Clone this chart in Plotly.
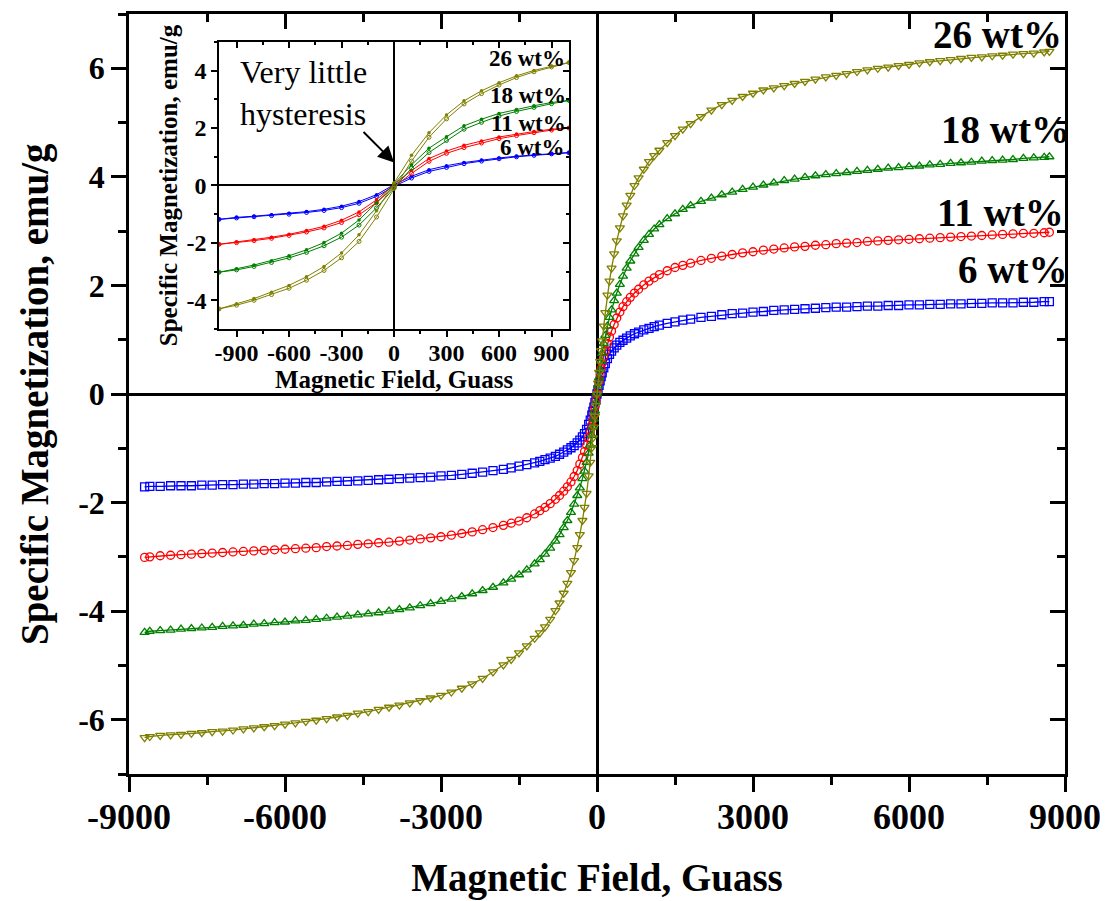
import plotly.graph_objects as go

# ---------------- main plot data (Magnetic field in Gauss, magnetization emu/g) ----------------
F_NEG = [-8700, -8600, -8400, -8200, -8000, -7800, -7600, -7400, -7200, -7000, -6800, -6600, -6400,
         -6200, -6000, -5800, -5600, -5400, -5200, -5000, -4800, -4600, -4400, -4200, -4000, -3800,
         -3600, -3400, -3200, -3000, -2800, -2600, -2400, -2200, -2000, -1800, -1650, -1500, -1350,
         -1200, -1100, -1000, -900, -800, -720, -640, -570, -500, -440, -380, -330, -280, -240, -200,
         -160, -130, -100, -80, -60, -40, -20]
F_POS = [0, 20, 40, 60, 80, 100, 130, 160, 200, 240, 280, 330, 380, 440, 500, 570, 640, 720, 800, 900,
         1000, 1100, 1200, 1350, 1500, 1650, 1800, 2000, 2200, 2400, 2600, 2800, 3000, 3200, 3400, 3600,
         3800, 4000, 4200, 4400, 4600, 4800, 5000, 5200, 5400, 5600, 5800, 6000, 6200, 6400, 6600, 6800,
         7000, 7200, 7400, 7600, 7800, 8000, 8200, 8400, 8600, 8700]

M6_NEG = [-1.71, -1.7, -1.7, -1.69, -1.69, -1.69, -1.68, -1.68, -1.67, -1.67, -1.66, -1.66, -1.65, -1.65,
          -1.64, -1.64, -1.63, -1.63, -1.62, -1.61, -1.61, -1.6, -1.59, -1.58, -1.57, -1.56, -1.55, -1.54,
          -1.53, -1.51, -1.5, -1.48, -1.46, -1.44, -1.41, -1.39, -1.36, -1.33, -1.3, -1.27, -1.24, -1.21,
          -1.18, -1.15, -1.11, -1.07, -1.03, -0.99, -0.95, -0.9, -0.85, -0.79, -0.73, -0.65, -0.56, -0.48,
          -0.39, -0.32, -0.24, -0.16, -0.08]
M6_POS = [0, 0.08, 0.16, 0.24, 0.32, 0.39, 0.48, 0.56, 0.65, 0.73, 0.79, 0.85, 0.9, 0.95, 0.99, 1.03, 1.07,
          1.11, 1.14, 1.18, 1.21, 1.24, 1.27, 1.3, 1.33, 1.36, 1.38, 1.41, 1.43, 1.46, 1.48, 1.49, 1.51,
          1.52, 1.54, 1.55, 1.56, 1.57, 1.58, 1.59, 1.6, 1.6, 1.61, 1.62, 1.62, 1.63, 1.63, 1.64, 1.64,
          1.65, 1.65, 1.66, 1.66, 1.67, 1.67, 1.68, 1.68, 1.68, 1.69, 1.69, 1.7, 1.7]

M11_NEG = [-3.01, -3.0, -2.98, -2.97, -2.96, -2.95, -2.94, -2.93, -2.92, -2.91, -2.9, -2.89, -2.88, -2.87,
           -2.86, -2.85, -2.84, -2.83, -2.81, -2.8, -2.79, -2.77, -2.76, -2.74, -2.73, -2.71, -2.69, -2.67,
           -2.65, -2.63, -2.6, -2.57, -2.54, -2.5, -2.46, -2.42, -2.38, -2.34, -2.28, -2.21, -2.15, -2.09,
           -2.02, -1.94, -1.87, -1.79, -1.71, -1.62, -1.52, -1.41, -1.29, -1.17, -1.06, -0.94, -0.8, -0.7,
           -0.58, -0.48, -0.36, -0.24, -0.12]
M11_POS = [0, 0.12, 0.24, 0.36, 0.47, 0.57, 0.69, 0.79, 0.93, 1.05, 1.16, 1.28, 1.4, 1.51, 1.61, 1.7, 1.78,
           1.86, 1.93, 2.01, 2.08, 2.14, 2.2, 2.27, 2.33, 2.37, 2.41, 2.46, 2.5, 2.54, 2.57, 2.6, 2.62,
           2.65, 2.67, 2.69, 2.71, 2.72, 2.74, 2.75, 2.77, 2.78, 2.79, 2.81, 2.82, 2.83, 2.84, 2.85, 2.86,
           2.87, 2.88, 2.89, 2.9, 2.91, 2.92, 2.93, 2.94, 2.95, 2.96, 2.96, 2.97, 2.98]

M18_NEG = [-4.39, -4.37, -4.36, -4.35, -4.33, -4.32, -4.31, -4.3, -4.28, -4.27, -4.26, -4.24, -4.23, -4.21,
           -4.2, -4.18, -4.17, -4.15, -4.13, -4.11, -4.09, -4.07, -4.05, -4.03, -4.0, -3.97, -3.94, -3.9,
           -3.86, -3.82, -3.78, -3.73, -3.68, -3.62, -3.56, -3.48, -3.41, -3.33, -3.24, -3.13, -3.05, -2.95,
           -2.84, -2.71, -2.59, -2.46, -2.33, -2.18, -2.03, -1.87, -1.73, -1.56, -1.42, -1.26, -1.09, -0.94,
           -0.76, -0.61, -0.46, -0.31, -0.15]
M18_POS = [0, 0.15, 0.3, 0.45, 0.6, 0.75, 0.93, 1.08, 1.25, 1.41, 1.55, 1.72, 1.86, 2.02, 2.17, 2.32, 2.45,
           2.58, 2.7, 2.83, 2.94, 3.04, 3.12, 3.23, 3.32, 3.4, 3.47, 3.55, 3.61, 3.67, 3.72, 3.77, 3.81,
           3.85, 3.89, 3.93, 3.96, 3.99, 4.02, 4.04, 4.06, 4.08, 4.1, 4.12, 4.14, 4.16, 4.17, 4.19, 4.2,
           4.22, 4.23, 4.25, 4.26, 4.27, 4.29, 4.3, 4.31, 4.32, 4.34, 4.35, 4.36, 4.37]

M26_NEG = [-6.33, -6.31, -6.29, -6.28, -6.27, -6.25, -6.24, -6.22, -6.21, -6.19, -6.17, -6.15, -6.13, -6.11,
           -6.08, -6.06, -6.03, -6.01, -5.98, -5.95, -5.92, -5.88, -5.85, -5.81, -5.77, -5.73, -5.69, -5.65,
           -5.6, -5.55, -5.49, -5.42, -5.34, -5.24, -5.12, -4.99, -4.89, -4.77, -4.64, -4.5, -4.4, -4.29,
           -4.15, -3.99, -3.85, -3.67, -3.49, -3.29, -3.07, -2.83, -2.59, -2.33, -2.09, -1.83, -1.51, -1.26,
           -0.99, -0.81, -0.61, -0.41, -0.21]
M26_POS = [0, 0.2, 0.4, 0.6, 0.8, 0.98, 1.25, 1.5, 1.82, 2.08, 2.32, 2.58, 2.82, 3.06, 3.28, 3.48, 3.66,
           3.84, 3.98, 4.14, 4.28, 4.39, 4.49, 4.63, 4.76, 4.88, 4.98, 5.11, 5.23, 5.33, 5.41, 5.48, 5.54,
           5.6, 5.64, 5.68, 5.72, 5.76, 5.8, 5.84, 5.87, 5.9, 5.94, 5.97, 6.0, 6.02, 6.05, 6.07, 6.1, 6.12,
           6.14, 6.16, 6.18, 6.2, 6.21, 6.23, 6.24, 6.26, 6.27, 6.28, 6.3, 6.31]

LABELS = ["6 wt%", "11 wt%", "18 wt%", "26 wt%"]

# ---------------- inset data (low-field loop, two sweep branches) ----------------
H_IN = [-1000, -900, -800, -700, -600, -500, -400, -300, -200, -100, 0,
        100, 200, 300, 400, 500, 600, 700, 800, 900, 1000]
I6_UP = [-1.18, -1.13, -1.09, -1.05, -1.0, -0.94, -0.87, -0.77, -0.62, -0.38, -0.03,
         0.26, 0.49, 0.63, 0.76, 0.85, 0.93, 1.0, 1.05, 1.1, 1.14]
I6_DN = [-1.18, -1.11, -1.07, -1.02, -0.97, -0.91, -0.83, -0.72, -0.56, -0.32, 0.03,
         0.32, 0.55, 0.69, 0.8, 0.89, 0.96, 1.02, 1.07, 1.11, 1.15]
I11_UP = [-2.05, -1.99, -1.92, -1.84, -1.74, -1.62, -1.48, -1.29, -1.02, -0.6, -0.05,
          0.42, 0.84, 1.12, 1.32, 1.48, 1.63, 1.74, 1.84, 1.93, 2.0]
I11_DN = [-2.05, -1.97, -1.89, -1.8, -1.7, -1.57, -1.42, -1.21, -0.92, -0.5, 0.05,
          0.52, 0.94, 1.2, 1.4, 1.55, 1.69, 1.79, 1.88, 1.96, 2.01]
I18_UP = [-3.02, -2.94, -2.82, -2.68, -2.52, -2.33, -2.1, -1.8, -1.38, -0.78, -0.07,
          0.6, 1.15, 1.57, 1.96, 2.2, 2.42, 2.58, 2.72, 2.85, 2.96]
I18_DN = [-3.02, -2.9, -2.77, -2.62, -2.45, -2.24, -1.99, -1.66, -1.2, -0.6, 0.07,
          0.72, 1.3, 1.7, 2.08, 2.31, 2.51, 2.65, 2.78, 2.89, 2.97]
I26_UP = [-4.3, -4.17, -4.0, -3.8, -3.58, -3.3, -2.96, -2.52, -1.95, -1.1, -0.1,
          0.85, 1.68, 2.32, 2.84, 3.2, 3.5, 3.76, 3.96, 4.13, 4.28]
I26_DN = [-4.3, -4.12, -3.94, -3.72, -3.48, -3.18, -2.82, -2.35, -1.72, -0.88, 0.1,
          1.05, 1.84, 2.46, 2.95, 3.3, 3.58, 3.82, 4.01, 4.16, 4.29]

# ---------------- tick values / labels ----------------
X_TICKS = [-9000, -6000, -3000, 0, 3000, 6000, 9000]
X_TICKTEXT = ["-9000", "-6000", "-3000", "0", "3000", "6000", "9000"]
Y_TICKS = [-6, -4, -2, 0, 2, 4, 6]
Y_TICKTEXT = ["-6", "-4", "-2", "0", "2", "4", "6"]
XI_TICKS = [-900, -600, -300, 0, 300, 600, 900]
XI_TICKTEXT = ["-900", "-600", "-300", "0", "300", "600", "900"]
YI_TICKS = [-4, -2, 0, 2, 4]
YI_TICKTEXT = ["-4", "-2", "0", "2", "4"]

COLORS = ["#0000FF", "#FF0000", "#008000", "#808000"]
SYMBOLS = ["square-open", "circle-open", "triangle-up-open", "triangle-down-open"]

FONT = "Liberation Serif"

main_series = [(M6_NEG, M6_POS), (M11_NEG, M11_POS), (M18_NEG, M18_POS), (M26_NEG, M26_POS)]
inset_series = [(I6_UP, I6_DN), (I11_UP, I11_DN), (I18_UP, I18_DN), (I26_UP, I26_DN)]

fig = go.Figure()

for (neg, pos), col, sym, lab in zip(main_series, COLORS, SYMBOLS, LABELS):
    assert len(neg) == len(F_NEG) and len(pos) == len(F_POS)
    fig.add_trace(go.Scatter(
        x=F_NEG + F_POS, y=neg + pos, mode="lines+markers", name=lab,
        line=dict(color=col, width=1.3),
        marker=dict(symbol=sym, size=8, color=col, line=dict(color=col, width=1.3)),
        xaxis="x", yaxis="y", showlegend=False))

# dummy trace for mirrored (inward) tick axes
fig.add_trace(go.Scatter(x=[None], y=[None], xaxis="x2", yaxis="y2", showlegend=False))

for (up, dn), col, lab in zip(inset_series, COLORS, LABELS):
    fig.add_trace(go.Scatter(
        x=H_IN, y=up, mode="lines+markers", line=dict(color=col, width=1),
        marker=dict(symbol="circle-open", size=4, color=col, line=dict(color=col, width=1)),
        xaxis="x3", yaxis="y3", showlegend=False))
    fig.add_trace(go.Scatter(
        x=H_IN[::-1], y=dn[::-1], mode="lines+markers", line=dict(color=col, width=1),
        marker=dict(symbol="circle", size=3.5, color=col),
        xaxis="x3", yaxis="y3", showlegend=False))

fig.add_trace(go.Scatter(x=[None], y=[None], xaxis="x4", yaxis="y4", showlegend=False))

tick_font = dict(family=FONT, size=36, color="black", weight="bold")
ytick_font = dict(family=FONT, size=32, color="black", weight="bold")
title_font = dict(family=FONT, size=39, color="black", weight="bold")
in_tick_font = dict(family=FONT, size=24, color="black", weight="bold")
in_title_font = dict(family=FONT, size=25, color="black", weight="bold")

X_DOM3 = [0.0962, 0.4701]
Y_DOM3 = [0.5855, 0.9632]

fig.update_layout(
    width=1106, height=901,
    margin=dict(l=129, r=41, t=14, b=127, autoexpand=False),
    paper_bgcolor="white", plot_bgcolor="white",
    xaxis=dict(domain=[0, 1], range=[-9000, 9000], tickmode="array", tickvals=X_TICKS,
               ticktext=X_TICKTEXT, ticks="outside", ticklabelstandoff=-6,
               ticklen=15, tickwidth=2.5, tickcolor="black",
               minor=dict(dtick=1500, tick0=0, ticks="outside", ticklen=8, tickwidth=2.5, tickcolor="black"),
               showline=True, linewidth=2.5, linecolor="black", mirror=True,
               zeroline=True, zerolinewidth=2.5, zerolinecolor="black", showgrid=False,
               tickfont=tick_font, anchor="y",
               title=dict(text="Magnetic Field, Guass", font=title_font, standoff=28)),
    yaxis=dict(domain=[0, 1], range=[-7, 7], tickmode="array", tickvals=Y_TICKS,
               ticktext=Y_TICKTEXT, ticks="outside",
               ticklen=15, tickwidth=2.5, tickcolor="black",
               minor=dict(dtick=1, tick0=0, ticks="outside", ticklen=8, tickwidth=2.5, tickcolor="black"),
               showline=True, linewidth=2.5, linecolor="black", mirror=True,
               zeroline=True, zerolinewidth=2.5, zerolinecolor="black", showgrid=False,
               tickfont=ytick_font, anchor="x"),
    xaxis2=dict(overlaying="x", side="top", anchor="y2", range=[-9000, 9000], tickmode="array",
                tickvals=X_TICKS, ticks="inside", ticklen=15, tickwidth=2.5, tickcolor="black",
                minor=dict(dtick=1500, tick0=0, ticks="inside", ticklen=8, tickwidth=2.5, tickcolor="black"),
                showticklabels=False, showgrid=False, zeroline=False, showline=False),
    yaxis2=dict(overlaying="y", side="right", anchor="x2", range=[-7, 7], tickmode="array",
                tickvals=Y_TICKS, ticks="inside", ticklen=15, tickwidth=2.5, tickcolor="black",
                minor=dict(dtick=1, tick0=0, ticks="inside", ticklen=8, tickwidth=2.5, tickcolor="black"),
                showticklabels=False, showgrid=False, zeroline=False, showline=False),
    xaxis3=dict(domain=X_DOM3, anchor="y3", range=[-1000, 1000], tickmode="array",
                tickvals=XI_TICKS, ticktext=XI_TICKTEXT, ticklabelstandoff=-5,
                ticks="outside", ticklen=6, tickwidth=1.5, tickcolor="black",
                minor=dict(dtick=150, tick0=0, ticks="outside", ticklen=3, tickwidth=1.5, tickcolor="black"),
                showline=True, linewidth=1.5, linecolor="black", mirror=True,
                zeroline=True, zerolinewidth=1.5, zerolinecolor="black", showgrid=False,
                tickfont=in_tick_font,
                title=dict(text="Magnetic Field, Guass", font=in_title_font, standoff=0)),
    yaxis3=dict(domain=Y_DOM3, anchor="x3", range=[-5, 5], tickmode="array",
                tickvals=YI_TICKS, ticktext=YI_TICKTEXT,
                ticks="outside", ticklen=6, tickwidth=1.5, tickcolor="black",
                minor=dict(dtick=1, tick0=0, ticks="outside", ticklen=3, tickwidth=1.5, tickcolor="black"),
                showline=True, linewidth=1.5, linecolor="black", mirror=True,
                zeroline=True, zerolinewidth=1.5, zerolinecolor="black", showgrid=False,
                tickfont=in_tick_font,
                title=dict(text="Specific Magnetization, emu/g", font=in_title_font, standoff=2)),
    xaxis4=dict(overlaying="x3", side="top", anchor="y4", range=[-1000, 1000], tickmode="array",
                tickvals=XI_TICKS, ticks="inside", ticklen=6, tickwidth=1.5, tickcolor="black",
                minor=dict(dtick=150, tick0=0, ticks="inside", ticklen=3, tickwidth=1.5, tickcolor="black"),
                showticklabels=False, showgrid=False, zeroline=False, showline=False),
    yaxis4=dict(overlaying="y3", side="right", anchor="x4", range=[-5, 5], tickmode="array",
                tickvals=YI_TICKS, ticks="inside", ticklen=6, tickwidth=1.5, tickcolor="black",
                minor=dict(dtick=1, tick0=0, ticks="inside", ticklen=3, tickwidth=1.5, tickcolor="black"),
                showticklabels=False, showgrid=False, zeroline=False, showline=False),
)

# main y-axis title (placed as rotated text left of the tick labels)
fig.add_annotation(text="Specific Magnetization, emu/g", xref="paper", yref="paper",
                   x=-0.1004, y=0.5, textangle=-90, showarrow=False,
                   xanchor="center", yanchor="middle", font=title_font)

# curve labels on main plot
main_lab_pos = [(0.9444, 0.6632), (0.9306, 0.7382), (0.9359, 0.8474), (0.9284, 0.9724)]
for lab, (px, py) in zip(LABELS, main_lab_pos):
    fig.add_annotation(text=lab, xref="paper", yref="paper", x=px, y=py, showarrow=False,
                       xanchor="center", yanchor="middle",
                       font=dict(family=FONT, size=39, color="black", weight="bold"))

# curve labels in inset
in_lab_pos = [(0.4306, 0.825), (0.4263, 0.8553), (0.4263, 0.8934), (0.4252, 0.9408)]
for lab, (px, py) in zip(LABELS, in_lab_pos):
    fig.add_annotation(text=lab, xref="paper", yref="paper", x=px, y=py, showarrow=False,
                       xanchor="center", yanchor="middle",
                       font=dict(family=FONT, size=23, color="black", weight="bold"))

fig.add_annotation(text="Very little<br>hysteresis", xref="paper", yref="paper",
                   x=0.1165, y=0.8967, xanchor="left", yanchor="middle", align="left",
                   showarrow=False, font=dict(family=FONT, size=32, color="black"))
fig.add_annotation(text="", xref="x3", yref="y3", x=0, y=0.8, ax=-32, ay=-32,
                   showarrow=True, arrowhead=2, arrowsize=1.6, arrowwidth=2, arrowcolor="black")

fig.write_html("out.html", config={"displayModeBar": False},
               post_script="document.body.style.margin='0px';")
